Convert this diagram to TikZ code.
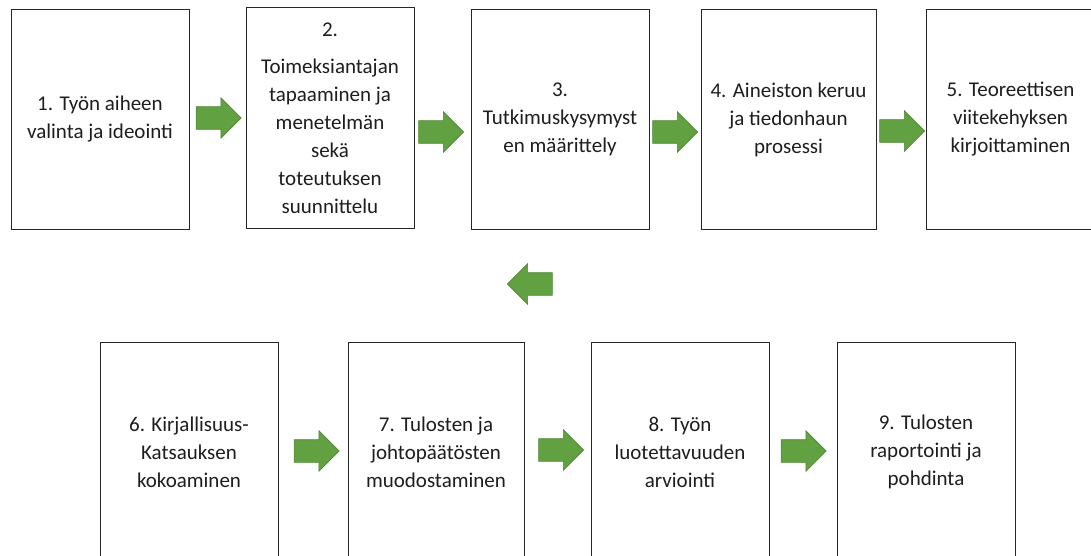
\documentclass[tikz,border=0pt]{standalone}
\usepackage{fontspec}
\setmainfont{Carlito}
\usetikzlibrary{shapes.arrows}
\definecolor{arrowgreen}{RGB}{98,161,66}
\definecolor{arrowedge}{RGB}{80,134,54}
\definecolor{boxtext}{RGB}{30,30,30}
\tikzset{
    phasebox/.style={
        draw=black!85,
        line width=1pt,
        fill=white,
        minimum width=#1,
        minimum height=220pt,
        inner sep=0pt,
        text=boxtext,
        align=center,
        font=\fontsize{21}{28}\selectfont
    },
    flowarrow/.style={
        single arrow,
        draw=arrowedge,
        fill=arrowgreen,
        line width=0.6pt,
        minimum height=45pt,
        minimum width=40pt,
        text height=11pt,
        text depth=11pt,
        text width=0pt,
        single arrow head extend=9pt,
        inner sep=0pt
    }
}

\begin{document}
\begin{tikzpicture}[x=1pt,y=-1pt]
    \useasboundingbox (0,0) rectangle (1091,556);
    % top row
    \node[phasebox=178pt] (phase1) at (100,119.5) {1. Työn aiheen\\valinta ja ideointi};
    \node[phasebox=168pt] (phase2) at (330,118) {2.\\[9pt]Toimeksiantajan\\tapaaminen ja\\menetelmän\\sekä\\toteutuksen\\suunnittelu};
    \node[phasebox=178pt] (phase3) at (560,119.5) {3.\\Tutkimuskysymyst\\en määrittely};
    \node[phasebox=175pt] (phase4) at (788.5,119.5) {4. Aineiston keruu\\ja tiedonhaun\\prosessi};
    \node[phasebox=169pt] (phase5) at (1010.5,119.5) {5. Teoreettisen\\viitekehyksen\\kirjoittaminen};
    % bottom row
    \node[phasebox=178pt] (phase6) at (189,452) {6. Kirjallisuus-\\Katsauksen\\kokoaminen};
    \node[phasebox=176pt] (phase7) at (436,452) {7. Tulosten ja\\johtopäätösten\\muodostaminen};
    \node[phasebox=178pt] (phase8) at (680,452) {8. Työn\\luotettavuuden\\arviointi};
    \node[phasebox=178pt] (phase9) at (926,452) {9. Tulosten\\raportointi ja\\pohdinta};
    % arrows
    \node[flowarrow] (step12) at (213,118) {};
    \node[flowarrow] (step23) at (435.5,132) {};
    \node[flowarrow] (step34) at (669.5,132) {};
    \node[flowarrow] (step45) at (896.5,131) {};
    \node[flowarrow, shape border rotate=180] (step56) at (535.5,284) {};
    \node[flowarrow] (step67) at (311,451) {};
    \node[flowarrow] (step78) at (555.5,450) {};
    \node[flowarrow] (step89) at (798,451) {};
\end{tikzpicture}
\end{document}
